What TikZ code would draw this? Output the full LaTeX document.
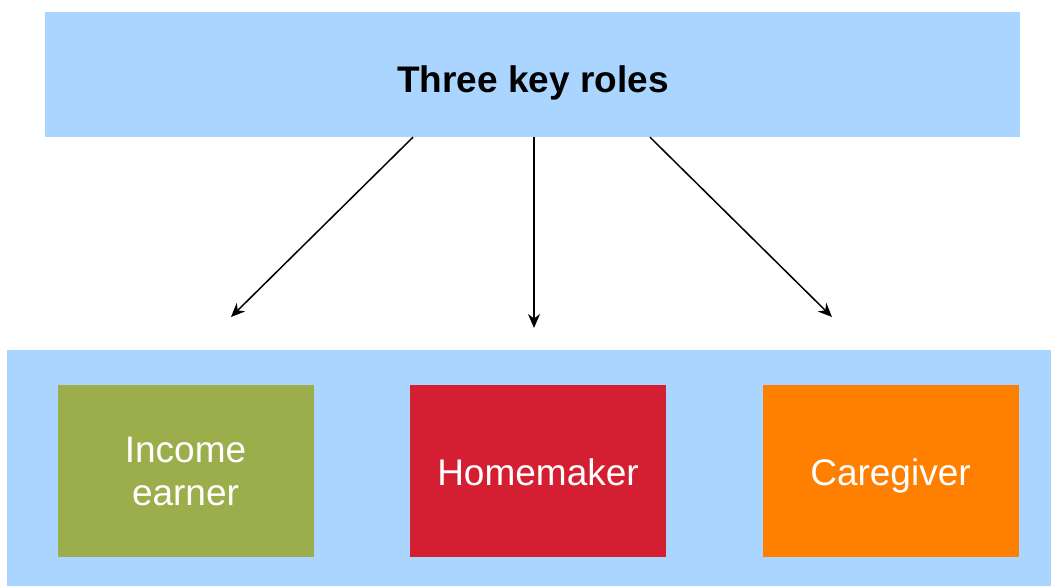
\documentclass[tikz,border=0pt]{standalone}
\usepackage{fontspec}
\setmainfont{Liberation Sans}
\usetikzlibrary{arrows.meta}
\definecolor{paleblue}{HTML}{A9D5FF}
\definecolor{olivegreen}{HTML}{9BAE4B}
\definecolor{rolered}{HTML}{D41F33}
\definecolor{roleorange}{HTML}{FF7F00}
\begin{document}
\begin{tikzpicture}[x=1pt,y=-1pt,
  panel/.style={fill=paleblue,draw=none},
  rolebox/.style={draw=none,minimum width=256pt,minimum height=172pt,
    text=white,font=\fontsize{37}{43}\selectfont,align=center,inner sep=0pt},
  rolelabel/.style={text=white,font=\fontsize{37}{43}\selectfont,anchor=base,inner sep=0pt},
  link/.style={line width=1.5pt,-{Stealth[length=14pt,width=12pt]}}]
\useasboundingbox (0,0) rectangle (1051,586);
% header panel
\node[panel,minimum width=975pt,minimum height=125pt,inner sep=0pt] (head) at (532.5,74.5) {};
\node[font=\fontsize{37}{43}\selectfont\bfseries,anchor=base,inner sep=0pt] (title) at (533,92) {Three key roles};
% lower panel holding the roles
\node[panel,minimum width=1044pt,minimum height=236pt,inner sep=0pt] (base) at (529,468) {};
\node[rolebox,fill=olivegreen] (earner) at (185.5,471) {Income\\earner};
\node[rolebox,fill=rolered] (home) at (538,471) {};
\node[rolebox,fill=roleorange] (care) at (890.5,471) {};
\node[rolelabel] (homelabel) at (538,485) {Homemaker};
\node[rolelabel] (carelabel) at (890.5,485) {Caregiver};
% arrow end points above the lower panel
\coordinate (e1) at (231,317);
\coordinate (e2) at (534,328);
\coordinate (e3) at (832,317);
\draw[link] (head.south -| 413,0) -- (e1);
\draw[link] (head.south -| 534,0) -- (e2);
\draw[link] (head.south -| 650,0) -- (e3);
\end{tikzpicture}
\end{document}
